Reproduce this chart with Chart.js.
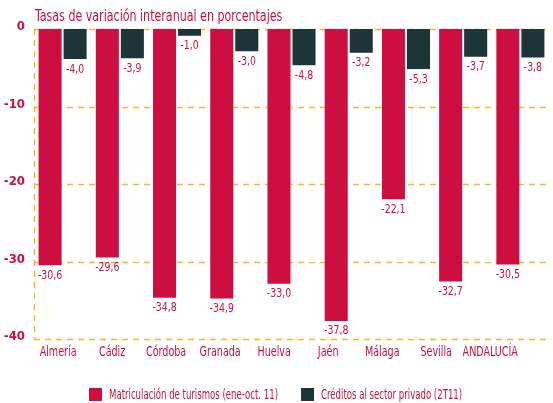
<!DOCTYPE html>
<html>
<head>
<meta charset="utf-8">
<script src="https://cdn.jsdelivr.net/npm/chart.js@4"></script>
<style>
  html, body { margin: 0; padding: 0; background: #fff; }
</style>
</head>
<body>
<canvas id="myChart" width="553" height="403"></canvas>
<script>
const provincias = ["Almería", "Cádiz", "Córdoba", "Granada", "Huelva", "Jaén", "Málaga", "Sevilla", "ANDALUCÍA"];
const matriculacion = [-30.6, -29.6, -34.8, -34.9, -33.0, -37.8, -22.1, -32.7, -30.5];
const creditos = [-4.0, -3.9, -1.0, -3.0, -4.8, -3.2, -5.3, -3.7, -3.8];
const yTicks = [0, -10, -20, -30, -40];

const titulo = "Tasas de variación interanual en porcentajes";
const fuente = "'DejaVu Sans Condensed', 'DejaVu Sans', sans-serif";
const granate = "#C8103F";
const rojo = "#CC0F40";
const oscuro = "#1E3537";
const amarillo = "#F9B330";

// the reference font is very condensed, so squeeze text horizontally
function textoEstrecho(ctx, txt, x, y, size, escala, align) {
  ctx.save();
  ctx.font = size + "px " + fuente;
  const w = ctx.measureText(txt).width * escala;
  let x0 = x;
  if (align === "center") x0 = x - w / 2;
  if (align === "right") x0 = x - w;
  ctx.translate(x0, y);
  ctx.scale(escala, 1);
  ctx.textAlign = "left";
  ctx.textBaseline = "alphabetic";
  ctx.fillText(txt, 0, 0);
  ctx.restore();
  return w;
}

// dashed grid behind the bars
const rejilla = {
  id: "rejilla",
  beforeDatasetsDraw(chart) {
    const ctx = chart.ctx;
    const area = chart.chartArea;
    const y = chart.scales.y;
    ctx.save();
    ctx.strokeStyle = amarillo;
    ctx.lineWidth = 1.5;
    ctx.setLineDash([6, 5]);
    yTicks.forEach((v) => {
      const py = Math.round(y.getPixelForValue(v)) + 0.5;
      ctx.beginPath();
      ctx.moveTo(area.left, py);
      ctx.lineTo(area.right, py);
      ctx.stroke();
    });
    ctx.beginPath();
    ctx.moveTo(area.left + 0.5, y.getPixelForValue(0));
    ctx.lineTo(area.left + 0.5, y.getPixelForValue(-40));
    ctx.stroke();
    ctx.restore();
  }
};

// title, value labels, category labels and legend
const textos = {
  id: "textos",
  afterDatasetsDraw(chart) {
    const ctx = chart.ctx;
    ctx.save();
    ctx.fillStyle = granate;

    textoEstrecho(ctx, titulo, 35, 21, 16, 0.77, "left");

    chart.data.datasets.forEach((ds, i) => {
      chart.getDatasetMeta(i).data.forEach((bar, j) => {
        const txt = ds.data[j].toFixed(1).replace(".", ",");
        textoEstrecho(ctx, txt, bar.x, bar.y + 12.5, 12, 0.87, "center");
      });
    });

    // in the original the category names sit on a slightly tighter spacing than the bars
    const x = chart.scales.x;
    provincias.forEach((p, i) => {
      textoEstrecho(ctx, p, x.getPixelForTick(i) * 0.944 - 1, 356, 14, 0.76, "center");
    });

    // legend
    ctx.font = "14px " + fuente;
    const esc = 0.68;
    const items = chart.data.datasets.map((ds) => ({
      label: ds.label,
      color: ds.backgroundColor,
      w: 13 + 7 + ctx.measureText(ds.label).width * esc,
    }));
    const total = items.reduce((s, it) => s + it.w, 0) + 23 * (items.length - 1);
    let lx = Math.round(chart.width / 2 - total / 2) - 1;
    items.forEach((it) => {
      ctx.fillStyle = it.color;
      ctx.fillRect(lx, 388, 13, 13);
      ctx.fillStyle = granate;
      textoEstrecho(ctx, it.label, lx + 20, 399, 14, esc, "left");
      lx += it.w + 23;
    });
    ctx.restore();
  }
};

const ctx = document.getElementById("myChart");

new Chart(ctx, {
  type: "bar",
  data: {
    labels: provincias,
    datasets: [
      {
        label: "Matriculación de turismos (ene-oct. 11)",
        data: matriculacion,
        backgroundColor: rojo,
        borderColor: "rgba(255,255,255,0.4)",
        borderWidth: 1,
      },
      {
        label: "Créditos al sector privado (2T11)",
        data: creditos,
        backgroundColor: oscuro,
        borderColor: "rgba(255,255,255,0.4)",
        borderWidth: 1,
      },
    ],
  },
  options: {
    responsive: false,
    animation: false,
    layout: { padding: { top: 29, right: 4, bottom: 0, left: 0 } },
    datasets: {
      bar: { categoryPercentage: 0.875, barPercentage: 1 },
    },
    plugins: {
      title: { display: false },
      tooltip: { enabled: false },
      legend: { display: false },
    },
    scales: {
      x: {
        grid: { display: false, drawTicks: false },
        border: { display: false },
        ticks: { display: false },
        afterFit: (axis) => {
          axis.height = 64;
          axis.paddingLeft = 0;
          axis.paddingRight = 0;
        },
      },
      y: {
        min: -40,
        max: 0,
        afterFit: (axis) => { axis.width = 34; },
        afterBuildTicks: (axis) => { axis.ticks = yTicks.map((v) => ({ value: v })); },
        grid: { display: false, drawTicks: false },
        border: { display: false },
        ticks: {
          color: granate,
          padding: 9,
          labelOffset: -2,
          font: { family: fuente, size: 13, weight: "bold" },
          callback: (v) => String(v),
        },
      },
    },
  },
  plugins: [rejilla, textos],
});
</script>
</body>
</html>
